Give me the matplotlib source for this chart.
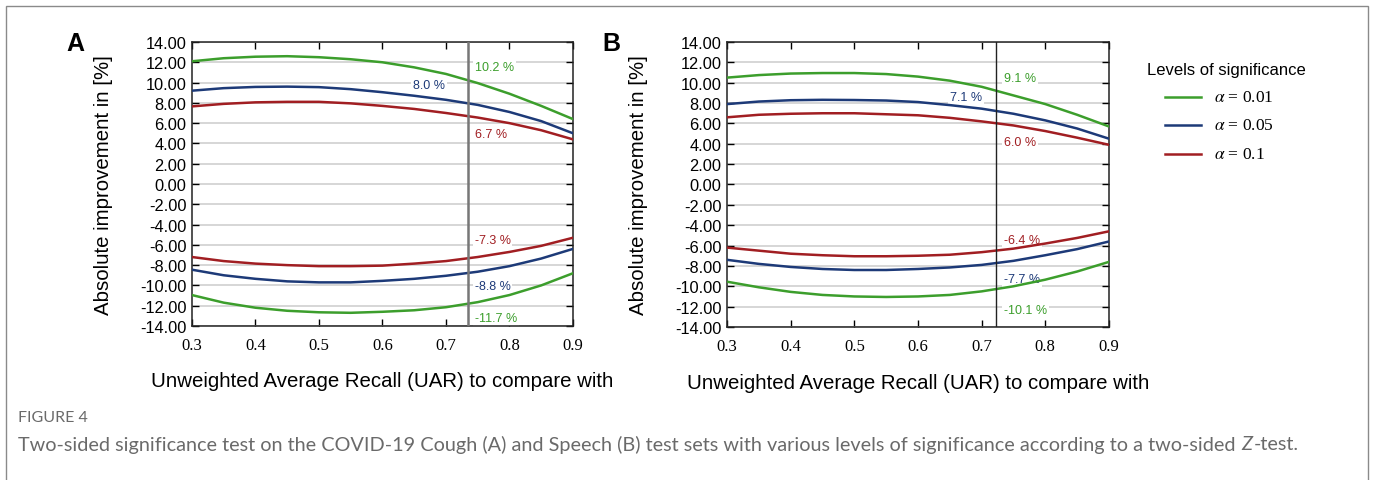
import numpy as np
import matplotlib as mpl
mpl.use("Agg")
import matplotlib.pyplot as plt
from matplotlib.lines import Line2D
from matplotlib.patches import Rectangle

plt.rcParams["mathtext.fontset"] = "stix"

# UAR grid the curves were read at
uar = [0.30, 0.35, 0.40, 0.45, 0.50, 0.55, 0.60, 0.65, 0.70, 0.75, 0.80, 0.85, 0.90]

# panel A (Cough)
a_up_001 = [12.1, 12.4, 12.55, 12.6, 12.5, 12.3, 12.0, 11.5, 10.85, 9.95, 8.9, 7.7, 6.4]
a_up_005 = [9.2, 9.45, 9.57, 9.6, 9.55, 9.35, 9.05, 8.7, 8.3, 7.8, 7.1, 6.2, 5.0]
a_up_01 = [7.65, 7.9, 8.05, 8.1, 8.1, 7.95, 7.7, 7.4, 7.0, 6.55, 6.0, 5.3, 4.4]
a_lo_01 = [-7.2, -7.6, -7.85, -8.0, -8.1, -8.1, -8.05, -7.85, -7.6, -7.2, -6.7, -6.1, -5.3]
a_lo_005 = [-8.45, -9.0, -9.35, -9.6, -9.7, -9.7, -9.55, -9.35, -9.05, -8.65, -8.1, -7.35, -6.4]
a_lo_001 = [-10.95, -11.7, -12.2, -12.5, -12.65, -12.7, -12.6, -12.45, -12.15, -11.65, -10.95, -10.0, -8.8]

# panel B (Speech)
b_up_001 = [10.5, 10.75, 10.9, 10.95, 10.95, 10.85, 10.6, 10.2, 9.6, 8.75, 7.9, 6.85, 5.7]
b_up_005 = [7.9, 8.15, 8.28, 8.32, 8.3, 8.25, 8.1, 7.8, 7.45, 6.95, 6.3, 5.5, 4.5]
b_up_01 = [6.6, 6.85, 6.95, 7.0, 7.0, 6.9, 6.8, 6.55, 6.2, 5.8, 5.25, 4.6, 3.9]
b_lo_01 = [-6.2, -6.5, -6.8, -6.95, -7.05, -7.05, -7.0, -6.9, -6.65, -6.3, -5.8, -5.25, -4.6]
b_lo_005 = [-7.4, -7.8, -8.1, -8.3, -8.4, -8.4, -8.3, -8.15, -7.9, -7.5, -6.95, -6.35, -5.6]
b_lo_001 = [-9.55, -10.1, -10.55, -10.85, -11.0, -11.05, -11.0, -10.85, -10.5, -10.0, -9.35, -8.55, -7.6]

a_ref = 0.735
b_ref = 0.722
a_marks = ["10.2 %", "8.0 %", "6.7 %", "-7.3 %", "-8.8 %", "-11.7 %"]
b_marks = ["9.1 %", "7.1 %", "6.0 %", "-6.4 %", "-7.7 %", "-10.1 %"]

levels = ["0.01", "0.05", "0.1"]
colors = {"0.01": "#3c9e2c", "0.05": "#1d3a78", "0.1": "#a11e22"}

x_ticks = [0.3, 0.4, 0.5, 0.6, 0.7, 0.8, 0.9]
y_ticks = list(range(-14, 15, 2))

SANS = ["Liberation Sans", "DejaVu Sans"]
SERIF = ["Liberation Serif", "DejaVu Serif"]
CAP = ["Lato", "DejaVu Sans"]

W, H = 1373, 481
fig = plt.figure(figsize=(W / 100, H / 100), dpi=100)
fig.patch.set_facecolor("white")


def draw_panel(rect, curves, ref, marks, mark_y, ref_color, ref_lw, letter, letter_x, mark_left_dx, mark_right_dx):
    ax = fig.add_axes(rect)
    for yv, lvl in curves:
        ax.plot(uar, yv, color=colors[lvl], lw=1.8, zorder=3)
    ax.axvline(ref, color=ref_color, lw=ref_lw, zorder=4)
    ax.set_xlim(0.3, 0.9)
    ax.set_ylim(-14, 14)
    ax.set_xticks(x_ticks)
    ax.set_xticklabels([f"{t:.1f}" for t in x_ticks], family=SERIF, fontsize=12)
    ax.set_yticks(y_ticks)
    ax.set_yticklabels([f"{t:.2f}" for t in y_ticks], family=SANS, fontsize=11.8)
    ax.yaxis.grid(True, color="#cfcfcf", lw=1.2, zorder=0)
    ax.set_axisbelow(True)
    ax.tick_params(direction="in", top=True, right=True, length=5, width=1, pad=4)
    ax.tick_params(axis="x", pad=8)
    for sp in ax.spines.values():
        sp.set_color("#222222")
        sp.set_linewidth(1.1)
    ax.set_ylabel("Absolute improvement in [%]", family=SANS, fontsize=14.7)
    ax.yaxis.set_label_coords(-0.207, 0.5)
    ax.set_xlabel("Unweighted Average Recall (UAR) to compare with", family=SANS, fontsize=14.7)
    ax.xaxis.set_label_coords(0.5, -0.16)

    lvl_order = ["0.01", "0.05", "0.1", "0.1", "0.05", "0.01"]
    for i, (txt, yy) in enumerate(zip(marks, mark_y)):
        if i == 1:
            xx, ha = ref - mark_right_dx, "right"
        else:
            xx, ha = ref + mark_left_dx, "left"
        ax.text(xx, yy, txt, color=colors[lvl_order[i]], fontsize=9, family=SANS, ha=ha, va="center",
                zorder=2, bbox=dict(boxstyle="square,pad=0.15", fc="white", ec="none"))
    fig.text(letter_x, 1 - 44 / H, letter, family=SANS, fontsize=18, fontweight="bold", ha="left", va="center")
    return ax


draw_panel([0.1398, 0.3202, 0.2775, 0.5904],
           [(a_up_001, "0.01"), (a_up_005, "0.05"), (a_up_01, "0.1"),
            (a_lo_01, "0.1"), (a_lo_005, "0.05"), (a_lo_001, "0.01")],
           a_ref, a_marks, [11.5, 9.8, 4.9, -5.5, -10.1, -13.2], "#777777", 1.8, "A", 66 / W, 0.01, 0.036)

draw_panel([0.5295, 0.3181, 0.2782, 0.5925],
           [(b_up_001, "0.01"), (b_up_005, "0.05"), (b_up_01, "0.1"),
            (b_lo_01, "0.1"), (b_lo_005, "0.05"), (b_lo_001, "0.01")],
           b_ref, b_marks, [10.5, 8.6, 4.2, -5.5, -9.3, -12.3], "#222222", 1.0, "B", 602 / W, 0.013, 0.021)

# legend, laid out by hand so the entries sit indented under the title
fig.text(1147 / W, 1 - 70 / H, "Levels of significance", family=SANS, fontsize=12, ha="left", va="center")
for lvl, ypx in zip(levels, [98, 126, 155]):
    yf = 1 - ypx / H
    fig.add_artist(Line2D([1165 / W, 1201 / W], [yf, yf], transform=fig.transFigure,
                          color=colors[lvl], lw=1.8))
    fig.text(1214 / W, yf, rf"$\alpha$ = {lvl}", family=SERIF, fontsize=12.5, ha="left", va="center")

# caption (Z in Lato italic, pieced together from three runs of text)
fig.text(18 / W, 1 - 418 / H, "FIGURE 4", family=CAP, fontsize=11.5, color="#6a6a6a", ha="left", va="center")
cap_parts = [
    ("Two-sided significance test on the COVID-19 Cough (A) and Speech (B) test sets with various levels of "
     "significance according to a two-sided ", "normal"),
    ("Z", "italic"),
    ("-test.", "normal"),
]
renderer = fig.canvas.get_renderer()
x_px = 18
for txt, style in cap_parts:
    t = fig.text(x_px / W, 1 - 445 / H, txt, family=CAP, style=style, fontsize=14.3, color="#6a6a6a",
                 ha="left", va="center")
    x_px = t.get_window_extent(renderer).x1 + 1

# thin frame around the whole figure
fig.add_artist(Rectangle((6 / W, -0.05), (1368 - 6) / W, 1.05 - 7 / H, transform=fig.transFigure,
                         fill=False, ec="#8a8a8a", lw=1.0))

fig.savefig("out.png", dpi=100, facecolor="white")
